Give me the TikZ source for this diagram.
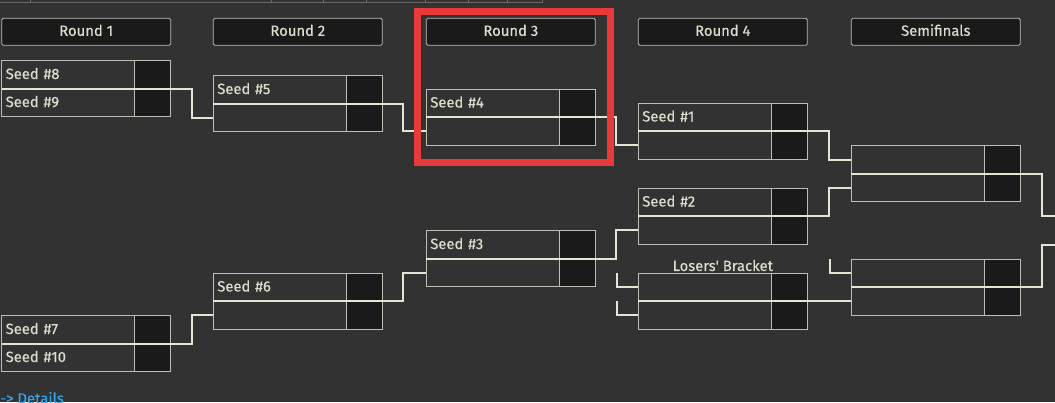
\documentclass[tikz,border=0pt]{standalone}
\usepackage{fontspec}
\setmainfont{Fira Sans}[UprightFeatures={FakeBold=0.5}]
\definecolor{bg}{RGB}{50,50,50}
\definecolor{dark}{RGB}{26,26,26}
\definecolor{bord}{RGB}{190,190,180}
\definecolor{wirec}{RGB}{230,228,212}
\definecolor{txt}{RGB}{222,220,205}
\definecolor{linkc}{RGB}{50,165,235}
\definecolor{hl}{RGB}{233,58,58}
\definecolor{topline}{RGB}{105,105,105}
\tikzset{
  rowbox/.style={draw=bord, line width=0.8pt, minimum height=28pt, text width=125pt,
    inner xsep=4pt, inner ysep=0pt, align=left, outer sep=0pt, text=txt,
    text height=11.5pt, text depth=2.5pt,
    font=\fontsize{14.8}{16}\selectfont},
  scorebox/.style={draw=bord, fill=dark, line width=0.8pt, minimum width=36pt,
    minimum height=28pt, inner sep=0pt, outer sep=0pt},
  headbox/.style={draw=bord, fill=dark, line width=0.8pt, minimum width=169pt,
    minimum height=27pt, inner sep=0pt, outer sep=0pt, rounded corners=1.5pt,
    text height=11pt, text depth=3pt,
    text=txt, font=\fontsize{14.8}{16}\selectfont},
  wire/.style={draw=wirec, line width=2pt},
  lbl/.style={text=txt, inner sep=0pt, font=\fontsize{14.8}{16}\selectfont},
}
\newcommand\mkmatch[5]{%
  \node[rowbox, anchor=north west] (#1-t) at (#2,#3) {#4};
  \node[rowbox, anchor=north west] (#1-b) at (#2,#3+28) {#5};
  \node[scorebox, anchor=north west] (#1-ts) at (#2+133,#3) {};
  \node[scorebox, anchor=north west] (#1-bs) at (#2+133,#3+28) {};
}
\begin{document}
\begin{tikzpicture}[x=1pt,y=-1pt]
\useasboundingbox (0,0) rectangle (1055,402);
\fill[bg] (0,0) rectangle (1055,402);
% top table edge
\draw[topline, line width=1pt] (0,2) -- (542,2);
\foreach \xx in {30,271,323,366,425,468,507,542} \draw[topline, line width=1pt] (\xx,0) -- (\xx,2.5);
% headers
\node[headbox, anchor=north west] (H1) at (1.7,18.3) {Round 1};
\node[headbox, anchor=north west] (H2) at (213.3,18.3) {Round 2};
\node[headbox, anchor=north west] (H3) at (426.3,18.3) {Round 3};
\node[headbox, anchor=north west] (H4) at (638.3,18.3) {Round 4};
\node[headbox, anchor=north west] (H5) at (851.3,18.3) {Semifinals};
% matches
\mkmatch{Ma}{1.7}{60.5}{Seed \#8}{Seed \#9}
\mkmatch{Mb}{1.7}{315.5}{Seed \#7}{Seed \#10}
\mkmatch{Mc}{213.3}{75.5}{Seed \#5}{}
\mkmatch{Md}{213.3}{273}{Seed \#6}{}
\mkmatch{Me}{426.3}{89}{Seed \#4}{}
\mkmatch{Mf}{426.3}{230.5}{Seed \#3}{}
\mkmatch{Mg}{638.3}{103}{Seed \#1}{}
\mkmatch{Mh}{638.3}{188}{Seed \#2}{}
\mkmatch{Mi}{638.3}{273}{}{}
\mkmatch{Mj}{851.3}{145.5}{}{}
\mkmatch{Mk}{851.3}{259}{}{}
\node[lbl] (LB) at (722.8,265.5) {Losers\textquotesingle\ Bracket};
% free ends
\coordinate (F1) at (1055,216);
\coordinate (F2) at (1055,245);
\coordinate (S1) at (617,273);
\coordinate (S2) at (617,301);
\coordinate (S3) at (830,259);
% connectors
\draw[wire] (Ma-t.south west) -- (Ma-ts.south east) -- ++(21,0) |- (Mc-b.west);
\draw[wire] (Mb-t.south west) -- (Mb-ts.south east) -- ++(21,0) |- (Md-b.west);
\draw[wire] (Mc-t.south west) -- (Mc-ts.south east) -- ++(21,0) |- (Me-b.west);
\draw[wire] (Md-t.south west) -- (Md-ts.south east) -- ++(21,0) |- (Mf-b.west);
\draw[wire] (Me-t.south west) -- (Me-ts.south east) -- ++(21,0) |- (Mg-b.west);
\draw[wire] (Mf-t.south west) -- (Mf-ts.south east) -- ++(21,0) |- (Mh-b.west);
\draw[wire] (Mg-t.south west) -- (Mg-ts.south east) -- ++(22,0) |- (Mj-t.west);
\draw[wire] (Mh-t.south west) -- (Mh-ts.south east) -- ++(22,0) |- (Mj-b.west);
\draw[wire] (Mi-t.south west) -- (Mi-ts.south east) -- (Mk-b.west);
\draw[wire] (Mj-t.south west) -- (Mj-ts.south east) -- ++(21.5,0) |- (F1);
\draw[wire] (Mk-t.south west) -- (Mk-ts.south east) -- ++(21.5,0) |- (F2);
\draw[wire] (S1) |- (Mi-t.west);
\draw[wire] (S2) |- (Mi-b.west);
\draw[wire] (S3) |- (Mk-t.west);
% details link
\node[anchor=base west, text=linkc, inner sep=0pt, font=\fontsize{14.8}{16}\selectfont] (det) at (0,403.5) {-{}> Details};
% highlight
\draw[hl, line width=7pt] (417.5,11.7) rectangle (610.3,162);
\end{tikzpicture}
\end{document}
